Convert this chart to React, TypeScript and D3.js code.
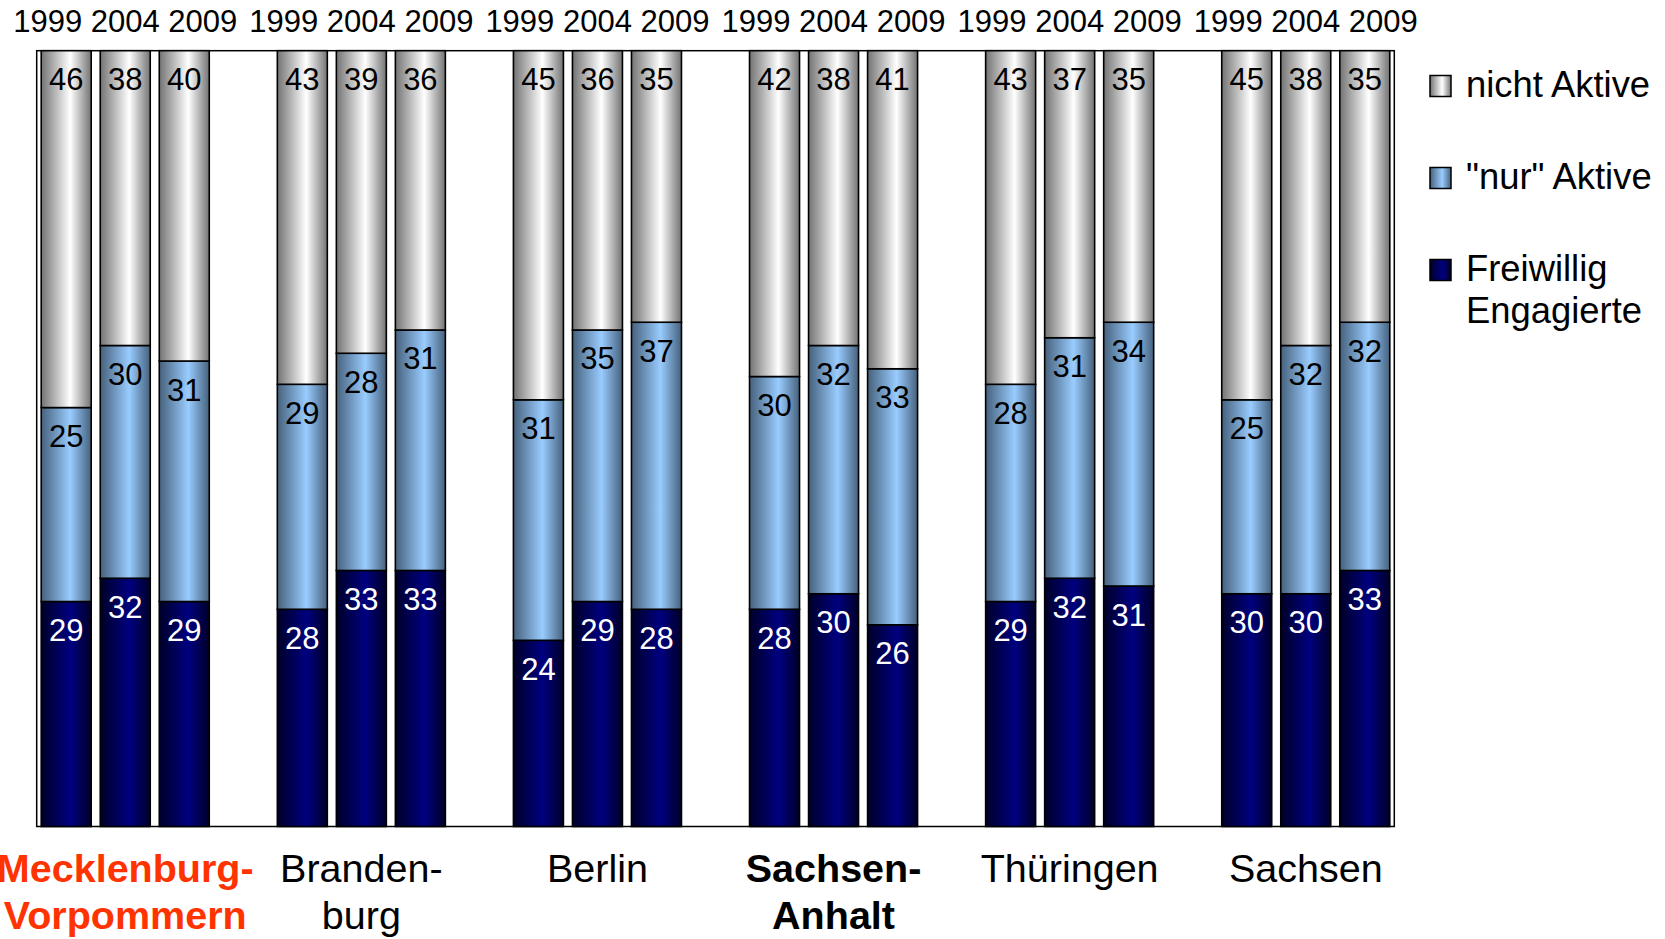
import React from "react";
import * as d3 from "d3";

// Survey waves shown for each state
const years = ["1999", "2004", "2009"];

// East German states (label lines as printed under each group)
const regions = ["Mecklenburg-Vorpommern", "Brandenburg", "Berlin", "Sachsen-Anhalt", "Thüringen", "Sachsen"];
const regionLines = [
  ["Mecklenburg-", "Vorpommern"],
  ["Branden-", "burg"],
  ["Berlin"],
  ["Sachsen-", "Anhalt"],
  ["Thüringen"],
  ["Sachsen"],
];

// Shares in percent, one row per state, one value per survey wave
const freiwilligEngagierte = [
  [29, 32, 29],
  [28, 33, 33],
  [24, 29, 28],
  [28, 30, 26],
  [29, 32, 31],
  [30, 30, 33],
];
const nurAktive = [
  [25, 30, 31],
  [29, 28, 31],
  [31, 35, 37],
  [30, 32, 33],
  [28, 31, 34],
  [25, 32, 32],
];
const nichtAktive = [
  [46, 38, 40],
  [43, 39, 36],
  [45, 36, 35],
  [42, 38, 41],
  [43, 37, 35],
  [45, 38, 35],
];

const seriesNames = ["Freiwillig Engagierte", "\"nur\" Aktive", "nicht Aktive"];
const seriesValues = [freiwilligEngagierte, nurAktive, nichtAktive];

const FONT = "'Liberation Sans', Arial, Helvetica, sans-serif";
const W = 1665;
const H = 939;

const plot = { left: 36.7, right: 1394.3, top: 50.7, bottom: 826.5 };

const seriesStyle = [
  { id: "gNavy", edge: "#000028", mid: "#000080", label: "#ffffff" },
  { id: "gBlue", edge: "#46617c", mid: "#99ccff", label: "#000000" },
  { id: "gGray", edge: "#737373", mid: "#ffffff", label: "#000000" },
];

export default function App() {
  // one slot per bar plus an empty slot between neighbouring states
  const slots: string[] = [];
  regions.forEach((r, gi) => {
    years.forEach((y) => slots.push(`${r}|${y}`));
    if (gi < regions.length - 1) slots.push(`${r}|gap`);
  });

  const x = d3
    .scaleBand<string>()
    .domain(slots)
    .range([plot.left, plot.right])
    .paddingInner(0.153)
    .paddingOuter(0.0765);

  const y = d3.scaleLinear().domain([0, 100]).range([plot.bottom, plot.top]);

  type Seg = { key: string; s: number; v: number; y0: number; y1: number; x: number };
  const segs: Seg[] = [];
  regions.forEach((r, gi) => {
    years.forEach((yr, yi) => {
      let acc = 0;
      seriesValues.forEach((vals, si) => {
        const v = vals[gi][yi];
        segs.push({ key: `${r}|${yr}`, s: si, v, y0: acc, y1: acc + v, x: x(`${r}|${yr}`)! });
        acc += v;
      });
    });
  });

  const bw = x.bandwidth();

  const legendItems = [
    { s: 2, lines: ["nicht Aktive"], base: 97 },
    { s: 1, lines: ["\"nur\" Aktive"], base: 189 },
    { s: 0, lines: ["Freiwillig", "Engagierte"], base: 281 },
  ];

  return (
    <svg
      width={W}
      height={H}
      viewBox={`0 0 ${W} ${H}`}
      style={{ position: "absolute", left: 0, top: 0, background: "#ffffff" }}
      fontFamily={FONT}
    >
      <defs>
        {seriesStyle.map((st) => (
          <linearGradient key={st.id} id={st.id} x1="0" y1="0" x2="1" y2="0">
            <stop offset="0" stopColor={st.edge} />
            <stop offset="0.58" stopColor={st.mid} />
            <stop offset="1" stopColor={st.edge} />
          </linearGradient>
        ))}
      </defs>

      {/* plot area frame */}
      <rect
        x={plot.left}
        y={plot.top}
        width={plot.right - plot.left}
        height={plot.bottom - plot.top}
        fill="none"
        stroke="#000"
        strokeWidth={1.5}
      />

      {/* stacked bars */}
      {segs.map((d, i) => (
        <rect
          key={`b${i}`}
          x={d.x}
          y={y(d.y1)}
          width={bw}
          height={y(d.y0) - y(d.y1)}
          fill={`url(#${seriesStyle[d.s].id})`}
          stroke="#000"
          strokeWidth={1.6}
        />
      ))}

      {/* value labels at the inner top of each segment */}
      {segs.map((d, i) => (
        <text
          key={`v${i}`}
          x={d.x + bw / 2}
          y={y(d.y1) + 39.5}
          textAnchor="middle"
          fontSize={31}
          fill={seriesStyle[d.s].label}
        >
          {d.v}
        </text>
      ))}

      {/* survey years above each state */}
      {regions.map((r) => (
        <text
          key={`y${r}`}
          x={x(`${r}|${years[1]}`)! + bw / 2}
          y={32}
          textAnchor="middle"
          fontSize={31}
          fill="#000"
        >
          {years.join(" ")}
        </text>
      ))}

      {/* state names */}
      {regions.map((r, gi) => {
        const cx = x(`${r}|${years[1]}`)! + bw / 2;
        const bold = gi === 0 || gi === 3;
        const color = gi === 0 ? "#ff3300" : "#000";
        return (
          <text
            key={`r${r}`}
            x={cx}
            y={881.5}
            textAnchor="middle"
            fontSize={39.5}
            fontWeight={bold ? "bold" : "normal"}
            fill={color}
          >
            {regionLines[gi].map((ln, li) => (
              <tspan key={li} x={cx} dy={li === 0 ? 0 : 47}>
                {ln}
              </tspan>
            ))}
          </text>
        );
      })}

      {/* legend */}
      {legendItems.map((it) => (
        <g key={`l${it.s}`}>
          <rect
            x={1430}
            y={it.base - 21.5}
            width={21}
            height={21}
            fill={`url(#${seriesStyle[it.s].id})`}
            stroke="#000"
            strokeWidth={1.5}
          />
          {it.lines.map((ln, li) => (
            <text
              key={li}
              x={1466}
              y={it.base + li * 41.5}
              fontSize={36.4}
              fill="#000"
              aria-label={li === 0 ? seriesNames[it.s] : undefined}
            >
              {ln}
            </text>
          ))}
        </g>
      ))}
    </svg>
  );
}
